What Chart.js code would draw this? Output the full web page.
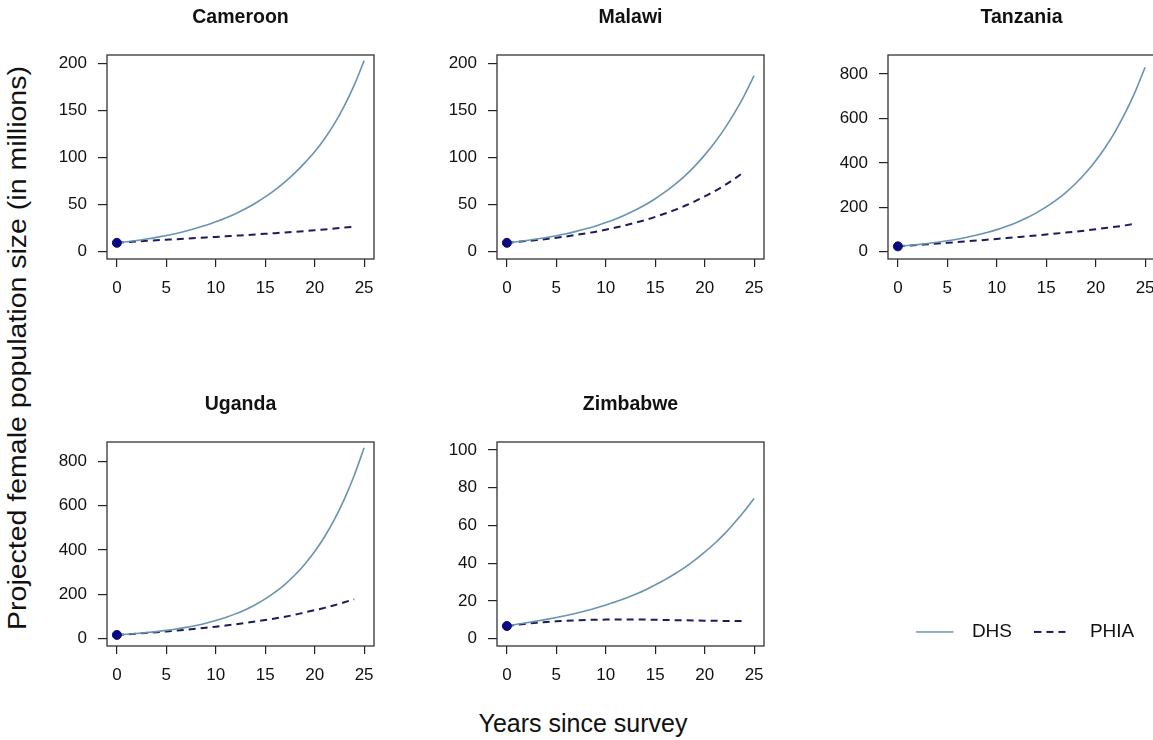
<!DOCTYPE html>
<html>
<head>
<meta charset="utf-8">
<script src="https://cdn.jsdelivr.net/npm/chart.js@4.4.1/dist/chart.umd.min.js"></script>
<style>
  body { margin: 0; background: #fff; width: 1153px; height: 740px; overflow: hidden; position: relative;
         font-family: "Liberation Sans", Arial, sans-serif; }
  canvas { position: absolute; }
  .axis-title { position: absolute; font-size: 25px; color: #111; white-space: nowrap; }
  #ylab { left: 17px; top: 348px; transform: translate(-50%, -50%) rotate(-90deg) scaleX(1.14); }
  #xlab { left: 583px; top: 723px; transform: translate(-50%, -50%); }
</style>
</head>
<body>
<div id="ylab" class="axis-title">Projected female population size (in millions)</div>
<div id="xlab" class="axis-title">Years since survey</div>
<script>
// values (millions)
const countries = ["Cameroon", "Malawi", "Tanzania", "Uganda", "Zimbabwe"];
const yearsDHS = [0, 1, 2, 3, 4, 5, 6, 7, 8, 9, 10, 11, 12, 13, 14, 15, 16, 17, 18, 19, 20, 21, 22, 23, 24, 25];
const yearsPHIA = [0, 1, 2, 3, 4, 5, 6, 7, 8, 9, 10, 11, 12, 13, 14, 15, 16, 17, 18, 19, 20, 21, 22, 23, 24];
const xTicks = [0, 5, 10, 15, 20, 25];

const cameroonDHS = [9.2, 10.4, 11.7, 13.2, 15.0, 17.0, 19.2, 21.7, 24.6, 27.8, 31.5, 35.6, 40.2, 45.4, 51.3, 58.0, 65.5, 74.0, 83.6, 94.3, 106, 120, 136, 155, 177, 203];
const cameroonPHIA = [9.2, 9.9, 10.6, 11.3, 11.9, 12.5, 13.1, 13.7, 14.3, 14.9, 15.5, 16.1, 16.8, 17.4, 18.1, 18.8, 19.5, 20.2, 20.9, 21.7, 22.6, 23.5, 24.4, 25.4, 26.4];
const malawiDHS = [9.2, 10.4, 11.7, 13.2, 14.9, 16.8, 18.9, 21.4, 24.1, 27.2, 30.7, 34.6, 39.1, 44.1, 49.7, 56.1, 63.3, 71.4, 80.5, 90.8, 102.5, 115.6, 130.4, 147.1, 165.9, 187];
const malawiPHIA = [9.2, 10.1, 11.1, 12.1, 13.3, 14.6, 16.0, 17.6, 19.3, 21.1, 23.2, 25.4, 27.9, 30.6, 33.5, 36.8, 40.4, 44.3, 48.6, 53.3, 58.5, 64.1, 70.3, 77.2, 84.7];
const tanzaniaDHS = [24, 27.7, 31.9, 36.8, 42.4, 48.9, 56.3, 64.9, 74.8, 86.2, 99.3, 114.4, 131.8, 151.9, 175.0, 201.6, 232.3, 267.6, 308.3, 355.2, 409.3, 471.5, 543.3, 626.0, 721.2, 831];
const tanzaniaPHIA = [24, 27.1, 30.2, 33.4, 36.6, 39.9, 43.3, 46.7, 50.2, 53.8, 57.5, 61.3, 65.2, 69.1, 73.2, 77.4, 81.7, 86.1, 90.6, 95.6, 101, 106.5, 112.2, 118.5, 125.5];
const ugandaDHS = [17, 19.9, 23.3, 27.2, 31.9, 37.3, 43.6, 51.0, 59.7, 69.9, 81.7, 95.6, 111.9, 130.9, 153.2, 179.2, 209.7, 245.3, 287.0, 335.8, 392.9, 459.7, 537.8, 629.3, 736.2, 861];
const ugandaPHIA = [17, 19.9, 22.9, 26.0, 29.3, 32.8, 36.5, 40.4, 44.6, 49.1, 54.0, 59.2, 64.8, 70.8, 77.2, 84.0, 91.3, 99.1, 108, 118.5, 128.5, 139, 151, 164, 178];
const zimbabweDHS = [6.7, 7.6, 8.4, 9.3, 10.2, 11.2, 12.3, 13.5, 14.8, 16.2, 17.8, 19.5, 21.4, 23.5, 25.8, 28.5, 31.3, 34.4, 37.8, 41.6, 45.8, 50.4, 55.5, 61.3, 67.5, 74.3];
const zimbabwePHIA = [6.7, 7.3, 7.9, 8.4, 8.8, 9.2, 9.5, 9.7, 9.9, 10.0, 10.1, 10.2, 10.2, 10.2, 10.1, 10.0, 9.9, 9.8, 9.7, 9.6, 9.5, 9.5, 9.4, 9.4, 9.4];

const yTicksSmall = [0, 50, 100, 150, 200];
const yTicksLarge = [0, 200, 400, 600, 800];
const yTicksZim = [0, 20, 40, 60, 80, 100];

const panels = [
    { name: countries[0], dhs: cameroonDHS, phia: cameroonPHIA, ticks: yTicksSmall, yMin: -8, yMax: 209, left: 107, top: 55 },
    { name: countries[1], dhs: malawiDHS, phia: malawiPHIA, ticks: yTicksSmall, yMin: -8, yMax: 209, left: 497, top: 55 },
    { name: countries[2], dhs: tanzaniaDHS, phia: tanzaniaPHIA, ticks: yTicksLarge, yMin: -33, yMax: 886, left: 888, top: 55 },
    { name: countries[3], dhs: ugandaDHS, phia: ugandaPHIA, ticks: yTicksLarge, yMin: -33, yMax: 887, left: 107, top: 442 },
    { name: countries[4], dhs: zimbabweDHS, phia: zimbabwePHIA, ticks: yTicksZim, yMin: -3.9, yMax: 104.2, left: 497, top: 442 },
];

const DHS_COLOR = "#6a93b0";
const PHIA_COLOR = "#1b1b5e";
const DOT_COLOR = "#0a0a80";
const FONT = "'Liberation Sans', Arial, sans-serif";

const Y_AXIS_W = 75, X_AXIS_H = 45, TITLE_H = 55, BOX_W = 267, BOX_H = 204, RIGHT_PAD = 15;

Chart.defaults.font.family = FONT;

// R style frame round the plot region
const boxPlugin = {
    id: "box",
    afterDraw(chart) {
        const a = chart.chartArea;
        if (!a) return;
        const ctx = chart.ctx;
        ctx.save();
        ctx.strokeStyle = "#333";
        ctx.lineWidth = 1.3;
        ctx.strokeRect(a.left, a.top, a.right - a.left, a.bottom - a.top);
        ctx.restore();
    }
};

function makePanel(p) {
    const canvas = document.createElement("canvas");
    canvas.width = Y_AXIS_W + BOX_W + RIGHT_PAD;
    canvas.height = TITLE_H + BOX_H + X_AXIS_H;
    canvas.style.left = (p.left - Y_AXIS_W) + "px";
    canvas.style.top = (p.top - TITLE_H) + "px";
    document.body.appendChild(canvas);

    new Chart(canvas.getContext("2d"), {
        type: "line",
        data: {
            datasets: [
                {
                    label: "Baseline",
                    data: [{ x: 0, y: p.dhs[0] }],
                    showLine: false,
                    pointRadius: 4.5,
                    pointBackgroundColor: DOT_COLOR,
                    pointBorderColor: DOT_COLOR,
                },
                {
                    label: "DHS",
                    data: yearsDHS.map((x, j) => ({ x, y: p.dhs[j] })),
                    borderColor: DHS_COLOR,
                    borderWidth: 1.6,
                    pointRadius: 0,
                    cubicInterpolationMode: "monotone",
                },
                {
                    label: "PHIA",
                    data: yearsPHIA.map((x, j) => ({ x, y: p.phia[j] })),
                    borderColor: PHIA_COLOR,
                    borderWidth: 2,
                    borderDash: [7, 5],
                    pointRadius: 0,
                    cubicInterpolationMode: "monotone",
                },
            ],
        },
        options: {
            responsive: false,
            animation: false,
            layout: { padding: { left: 0, right: RIGHT_PAD, top: 0, bottom: 0 } },
            plugins: {
                legend: { display: false },
                tooltip: { enabled: false },
                title: {
                    display: true,
                    fullSize: false,
                    text: p.name,
                    color: "#111",
                    font: { size: 19.5, weight: "bold" },
                    padding: { top: 6, bottom: 25.6 },
                },
            },
            scales: {
                x: {
                    type: "linear",
                    min: -1,
                    max: 26,
                    afterBuildTicks: s => { s.ticks = xTicks.map(v => ({ value: v })); },
                    afterFit: s => { s.height = X_AXIS_H; },
                    grid: { display: true, drawOnChartArea: false, drawTicks: true, tickLength: 8, color: "#222", lineWidth: 1.2 },
                    border: { display: false },
                    ticks: { color: "#111", font: { size: 17 }, padding: 10.8, maxRotation: 0, autoSkip: false },
                },
                y: {
                    type: "linear",
                    min: p.yMin,
                    max: p.yMax,
                    afterBuildTicks: s => { s.ticks = p.ticks.map(v => ({ value: v })); },
                    afterFit: s => { s.width = Y_AXIS_W; },
                    grid: { display: true, drawOnChartArea: false, drawTicks: true, tickLength: 9, color: "#222", lineWidth: 1.2 },
                    border: { display: false },
                    ticks: { color: "#111", font: { size: 17 }, padding: 11, autoSkip: false },
                },
            },
        },
        plugins: [boxPlugin],
    });
}

panels.forEach(makePanel);

// little line swatch for the legend, with blank room after the line
function swatch(color, width, dash, lineLen) {
    const c = document.createElement("canvas");
    c.width = 46;
    c.height = 6;
    const g = c.getContext("2d");
    g.strokeStyle = color;
    g.lineWidth = width;
    g.setLineDash(dash);
    g.beginPath();
    g.moveTo(0, 3);
    g.lineTo(lineLen, 3);
    g.stroke();
    return c;
}

// legend on its own small chart
function makeLegend() {
    const canvas = document.createElement("canvas");
    canvas.width = 340;
    canvas.height = 200;
    canvas.style.left = "893.6px";
    canvas.style.top = "600px";
    document.body.appendChild(canvas);

    const styles = [swatch(DHS_COLOR, 1.6, [], 37), swatch(PHIA_COLOR, 2, [7, 5], 31)];

    new Chart(canvas.getContext("2d"), {
        type: "line",
        data: {
            datasets: [
                { label: "DHS", data: [], borderColor: DHS_COLOR, borderWidth: 1.6 },
                { label: "PHIA", data: [], borderColor: PHIA_COLOR, borderWidth: 2, borderDash: [7, 5] },
            ],
        },
        options: {
            responsive: false,
            animation: false,
            scales: { x: { display: false }, y: { display: false } },
            plugins: {
                tooltip: { enabled: false },
                legend: {
                    display: true,
                    position: "top",
                    align: "start",
                    labels: {
                        usePointStyle: true,
                        pointStyleWidth: 46,
                        padding: 22.4,
                        color: "#111",
                        font: { size: 19 },
                        generateLabels: chart => chart.data.datasets.map((d, i) => ({
                            text: d.label,
                            strokeStyle: d.borderColor,
                            fillStyle: d.borderColor,
                            lineWidth: 0,
                            pointStyle: styles[i],
                            hidden: false,
                            datasetIndex: i,
                            fontColor: "#111",
                        })),
                    },
                },
            },
        },
    });
}

makeLegend();
</script>
</body>
</html>
